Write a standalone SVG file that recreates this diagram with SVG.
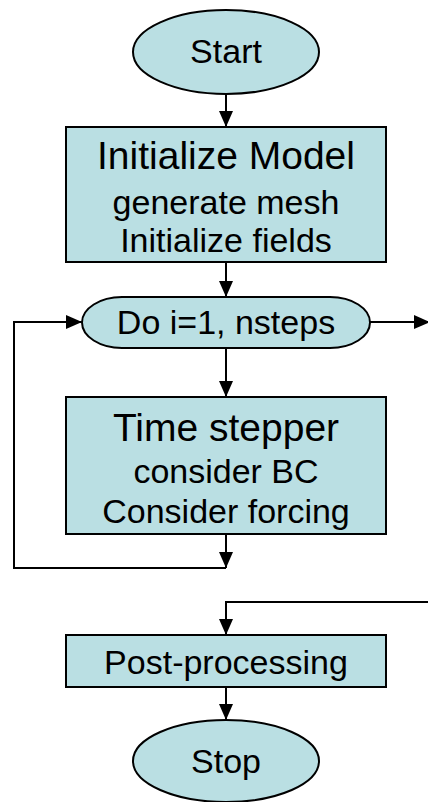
<svg xmlns="http://www.w3.org/2000/svg" width="428" height="802" viewBox="0 0 428 802">
<style>
.n{fill:#badfe3;stroke:#000;stroke-width:2}
.c{fill:none;stroke:#000;stroke-width:2}
text{font-family:"Liberation Sans",Arial,sans-serif;fill:#000;text-anchor:middle;font-size:34px}
.t{font-size:39px}
</style>
<defs>
<marker id="b" markerWidth="16" markerHeight="14" refX="16" refY="7" orient="auto" markerUnits="userSpaceOnUse" viewBox="0 0 16 14">
<path d="M0,0 L16,7 L0,14 Z" fill="#000"/>
</marker>
</defs>
<g id="connectors">
<path class="c" d="M226,93 V127" marker-end="url(#b)"/>
<path class="c" d="M226,262 V297" marker-end="url(#b)"/>
<path class="c" d="M226,348 V397" marker-end="url(#b)"/>
<path class="c" d="M226,534 V568" marker-end="url(#b)"/>
<path class="c" d="M226,568 H14 V322 H82" marker-end="url(#b)"/>
<path class="c" d="M370,322 H430" marker-end="url(#b)"/>
<path class="c" d="M430,602 H226 V635" marker-end="url(#b)"/>
<path class="c" d="M226,687 V720" marker-end="url(#b)"/>
</g>
<g id="start">
<ellipse class="n" cx="226" cy="52" rx="93" ry="42"/>
<text x="226" y="63">Start</text>
</g>
<g id="init">
<rect class="n" x="66" y="127" width="320" height="135"/>
<text class="t" x="226" y="169">Initialize Model</text>
<text x="226" y="214">generate mesh</text>
<text x="226" y="252">Initialize fields</text>
</g>
<g id="loop">
<rect class="n" x="82" y="297" width="288" height="51" rx="40" ry="25.5"/>
<text x="226" y="334">Do i=1, nsteps</text>
</g>
<g id="timestep">
<rect class="n" x="66" y="397" width="320" height="137"/>
<text class="t" x="226" y="441">Time stepper</text>
<text x="226" y="483">consider BC</text>
<text x="226" y="523">Consider forcing</text>
</g>
<g id="post">
<rect class="n" x="66" y="635" width="320" height="52"/>
<text x="226" y="674">Post-processing</text>
</g>
<g id="stop">
<ellipse class="n" cx="226" cy="761" rx="93" ry="41"/>
<text x="226" y="773">Stop</text>
</g>
</svg>
